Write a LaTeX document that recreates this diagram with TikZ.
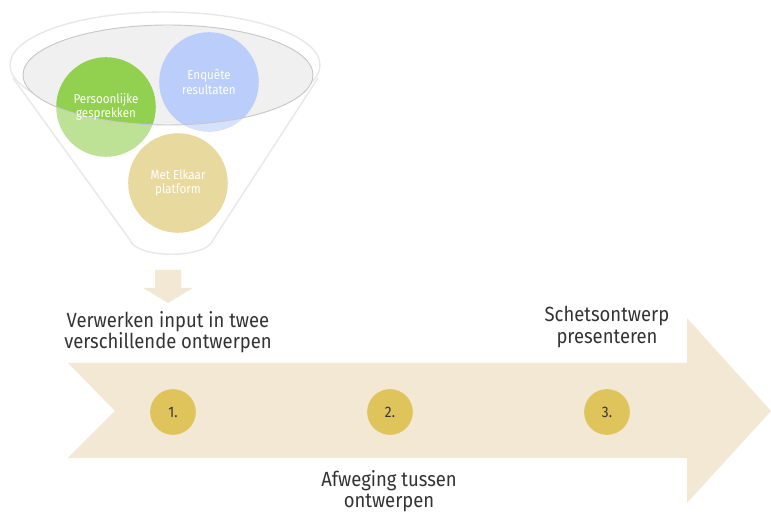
\documentclass[tikz,border=0pt]{standalone}
\usepackage{fontspec}
\setmainfont[FakeStretch=0.9]{Fira Sans}
\usepackage{tikz}

\definecolor{funnelline}{RGB}{217,217,217}
\definecolor{rimline}{RGB}{200,200,200}
\definecolor{rimfill}{RGB}{240,240,240}
\definecolor{leafgreen}{RGB}{146,208,80}
\definecolor{skyblue}{RGB}{187,205,250}
\definecolor{sand}{RGB}{218,193,95}
\definecolor{gold}{RGB}{222,196,90}
\definecolor{ribbon}{RGB}{242,232,211}
\definecolor{darktext}{RGB}{51,51,51}

\tikzset{
  bubble/.style={circle, minimum size=85pt, inner sep=0pt},
  bubbletext/.style={text=white, align=center, font=\fontsize{11}{12.5}\selectfont},
  stage/.style={circle, fill=gold, minimum size=39pt, inner sep=0pt, text=darktext, font=\fontsize{13}{15}\selectfont},
  steptext/.style={align=center, text=darktext, font=\fontsize{17.5}{18}\selectfont}
}

\begin{document}
\begin{tikzpicture}[x=0.03cm,y=-0.03cm]
  \useasboundingbox (0,0) rectangle (771,515);

  % funnel
  \draw[funnelline, line width=1.2pt, fill=white] (13,78) -- (130,240) .. controls (136,259) and (207,259) .. (213,240) -- (318,78);
  \draw[funnelline, line width=1.2pt] (165,65) ellipse (155 and 53);
  \fill[rimfill] (168,75) ellipse (145 and 50);

  \node[bubble, fill=leafgreen] (talks) at (106,107) {};
  \node[bubble, fill=skyblue] (survey) at (209,82) {};
  \node[bubble, fill=sand] (platform) at (178,183) {};
  \fill[white, opacity=0.4, even odd rule] (0,0) rectangle (340,262) (168,75) ellipse (145 and 50);
  \draw[rimline, line width=0.8pt] (168,75) ellipse (145 and 50);

  \node[bubbletext] at (talks) {Persoonlijke\\gesprekken};
  \node[bubbletext] at (survey) {Enquête\\resultaten};
  \node[bubbletext] at (platform) {Met Elkaar\\platform};

  % pijl omlaag
  \fill[ribbon] (155,270) -- (181,270) -- (181,288) -- (193,288) -- (168,303) -- (143,288) -- (155,288) -- cycle;

  % tijdlijn
  \fill[ribbon] (68,363) -- (687,363) -- (687,318) -- (771,411) -- (687,503) -- (687,458) -- (68,458) -- (115,411) -- cycle;

  \node[stage] (s1) at (173,412) {1.};
  \node[stage] (s2) at (390,412) {2.};
  \node[stage] (s3) at (607,412) {3.};

  \node[steptext] (t1) at (168,332) {Verwerken input in twee\\verschillende ontwerpen};
  \node[steptext] (t3) at (607,327) {Schetsontwerp\\presenteren};
  \node[steptext] (t2) at (389,491) {Afweging tussen\\ontwerpen};
\end{tikzpicture}
\end{document}
